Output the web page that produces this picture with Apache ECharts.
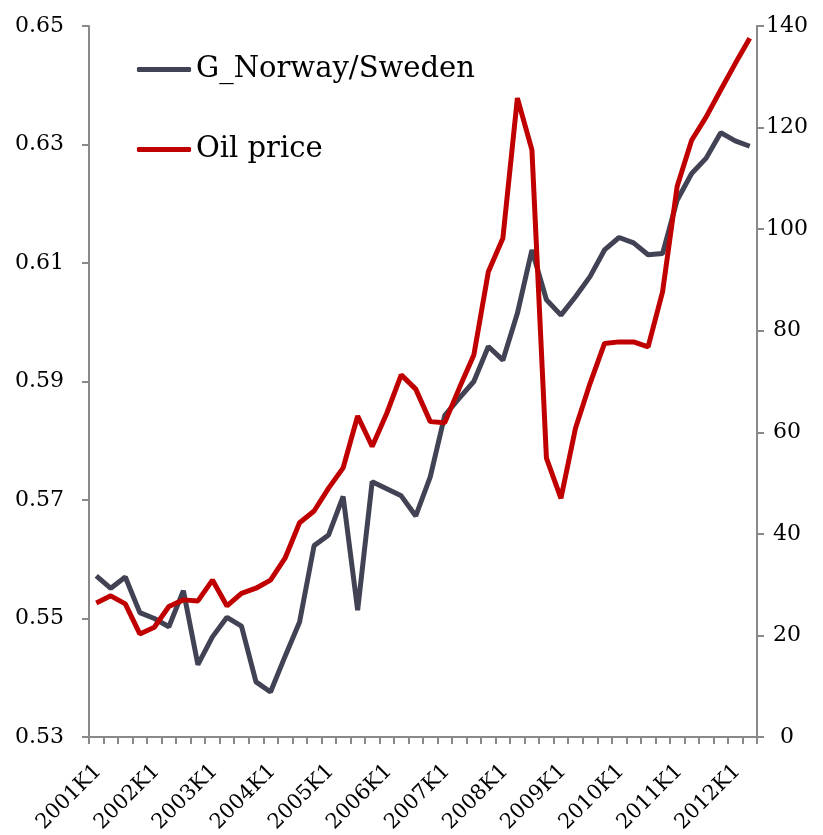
<!DOCTYPE html>
<html>
<head>
<meta charset="utf-8">
<script src="https://cdn.jsdelivr.net/npm/echarts@6/dist/echarts.min.js"></script>
<style>
html,body{margin:0;padding:0;background:#fff;}
#chart{width:823px;height:835px;}
</style>
</head>
<body>
<div id="chart"></div>
<script>
var categories = [
  "2001K1","2001K2","2001K3","2001K4",
  "2002K1","2002K2","2002K3","2002K4",
  "2003K1","2003K2","2003K3","2003K4",
  "2004K1","2004K2","2004K3","2004K4",
  "2005K1","2005K2","2005K3","2005K4",
  "2006K1","2006K2","2006K3","2006K4",
  "2007K1","2007K2","2007K3","2007K4",
  "2008K1","2008K2","2008K3","2008K4",
  "2009K1","2009K2","2009K3","2009K4",
  "2010K1","2010K2","2010K3","2010K4",
  "2011K1","2011K2","2011K3","2011K4",
  "2012K1","2012K2"
];
var norwaySweden = [
  0.5572, 0.5551, 0.5570, 0.5510, 0.5500, 0.5486, 0.5547, 0.5422,
  0.5469, 0.5502, 0.5487, 0.5393, 0.5376, 0.5436, 0.5494, 0.5623,
  0.5641, 0.5706, 0.5514, 0.5731, 0.5719, 0.5707, 0.5673, 0.5739,
  0.5843, 0.5872, 0.5900, 0.5959, 0.5936, 0.6015, 0.6122, 0.6038,
  0.6012, 0.6043, 0.6077, 0.6122, 0.6143, 0.6134, 0.6114, 0.6116,
  0.6206, 0.6251, 0.6277, 0.6320, 0.6306, 0.6297
];
var oilPrice = [
  26.4, 27.8, 26.2, 20.3, 21.6, 25.7, 27.0, 26.8,
  30.9, 25.8, 28.3, 29.3, 30.9, 35.2, 42.2, 44.5,
  49.0, 53.0, 63.2, 57.2, 63.7, 71.3, 68.5, 62.1,
  61.9, 68.7, 75.2, 91.6, 98.2, 125.8, 115.6, 54.9,
  47.0, 60.8, 69.6, 77.5, 77.8, 77.8, 76.8, 87.7,
  108.4, 117.5, 122.1, 127.4, 132.6, 137.6
];
var leftTicks = [0.53, 0.55, 0.57, 0.59, 0.61, 0.63, 0.65];
var rightTicks = [0, 20, 40, 60, 80, 100, 120, 140];

var FONT = "DejaVu Serif";
var AXIS_COLOR = "#898989";
var chart = echarts.init(document.getElementById("chart"));
chart.setOption({
  animation: false,
  backgroundColor: "#ffffff",
  grid: { left: 89, right: 66, top: 26, bottom: 98, containLabel: false, outerBoundsMode: "none" },
  legend: {
    orient: "vertical",
    left: 132,
    top: 50,
    itemGap: 51,
    itemWidth: 54,
    itemHeight: 5,
    icon: "roundRect",
    textStyle: { fontFamily: FONT, fontSize: 29, color: "#000" },
    data: ["G_Norway/Sweden", "Oil price"]
  },
  xAxis: {
    type: "category",
    data: categories,
    boundaryGap: true,
    axisLine: { lineStyle: { color: AXIS_COLOR, width: 2 } },
    axisTick: { show: true, interval: 0, length: 7, lineStyle: { color: AXIS_COLOR, width: 2 } },
    axisLabel: {
      interval: 3,
      rotate: 45,
      margin: 33,
      padding: [0, -3, 0, 0],
      fontFamily: FONT,
      fontSize: 21,
      color: "#000"
    },
    splitLine: { show: false }
  },
  yAxis: [
    {
      type: "value",
      min: leftTicks[0],
      max: leftTicks[leftTicks.length - 1],
      interval: 0.02,
      position: "left",
      axisLine: { show: true, lineStyle: { color: AXIS_COLOR, width: 2 } },
      axisTick: { show: true, length: 7, lineStyle: { color: AXIS_COLOR, width: 2 } },
      axisLabel: {
        margin: 25,
        fontFamily: FONT,
        fontSize: 22,
        color: "#000",
        formatter: function (v) { return v.toFixed(2); }
      },
      splitLine: { show: false }
    },
    {
      type: "value",
      min: rightTicks[0],
      max: rightTicks[rightTicks.length - 1],
      interval: 20,
      position: "right",
      axisLine: { show: true, lineStyle: { color: AXIS_COLOR, width: 2 } },
      axisTick: { show: true, length: 7, lineStyle: { color: AXIS_COLOR, width: 2 } },
      axisLabel: {
        margin: 30,
        align: "center",
        fontFamily: FONT,
        fontSize: 22,
        color: "#000"
      },
      splitLine: { show: false }
    }
  ],
  series: [
    {
      name: "G_Norway/Sweden",
      type: "line",
      yAxisIndex: 0,
      data: norwaySweden,
      symbol: "none",
      color: "#414354",
      lineStyle: { width: 5, color: "#414354" }
    },
    {
      name: "Oil price",
      type: "line",
      yAxisIndex: 1,
      data: oilPrice,
      symbol: "none",
      color: "#C00000",
      lineStyle: { width: 5, color: "#C00000" }
    }
  ]
});
</script>
</body>
</html>
